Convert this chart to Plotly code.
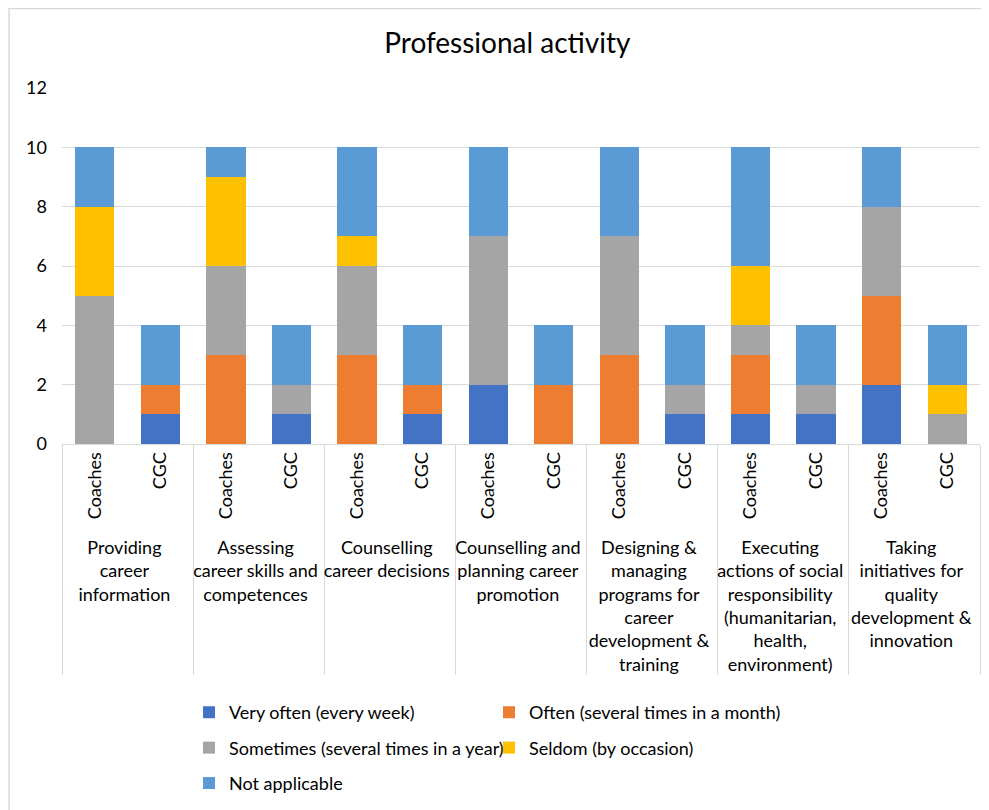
import plotly.graph_objects as go

groups = [
    "Providing<br>career<br>information",
    "Assessing<br>career skills and<br>competences",
    "Counselling<br>career decisions",
    "Counselling and<br>planning career<br>promotion",
    "Designing &<br>managing<br>programs for<br>career<br>development &<br>training",
    "Executing<br>actions of social<br>responsibility<br>(humanitarian,<br>health,<br>environment)",
    "Taking<br>initiatives for<br>quality<br>development &<br>innovation",
]
roles = ["Coaches", "CGC"]

# values per bar, order: (group1 Coaches, group1 CGC, group2 Coaches, ...)
very_often = [0, 1, 0, 1, 0, 1, 2, 0, 0, 1, 1, 1, 2, 0]
often      = [0, 1, 3, 0, 3, 1, 0, 2, 3, 0, 2, 0, 3, 0]
sometimes  = [5, 0, 3, 1, 3, 0, 5, 0, 4, 1, 1, 1, 3, 1]
seldom     = [3, 0, 3, 0, 1, 0, 0, 0, 0, 0, 2, 0, 0, 1]
not_appl   = [2, 2, 1, 2, 3, 2, 3, 2, 3, 2, 4, 2, 2, 2]

series_names = [
    "Very often (every week)",
    "Often (several times in a month)",
    "Sometimes (several times in a year)",
    "Seldom (by occasion)",
    "Not applicable",
]
series_vals = [very_often, often, sometimes, seldom, not_appl]
colors = ["#4472C4", "#ED7D31", "#A5A5A5", "#FFC000", "#5B9BD5"]
# legend column for each series (two-column legend as in the reference)
legend_col = ["legend", "legend2", "legend", "legend2", "legend"]

x_outer = [g for g in groups for _ in roles]
x_inner = [r for _ in groups for r in roles]

fig = go.Figure()
for i, (name, vals, col) in enumerate(zip(series_names, series_vals, colors)):
    fig.add_trace(go.Bar(x=[x_outer, x_inner], y=vals, name=name,
                         legend=legend_col[i], legendgroup=f"g{i}",
                         marker=dict(color=col, line=dict(width=0))))

font = "Lato, Open Sans, sans-serif"
leg_common = dict(orientation="v", xref="container", yref="container",
                  xanchor="left", y=0.1446, yanchor="top",
                  font=dict(size=18), traceorder="grouped",
                  tracegroupgap=9, itemwidth=30, bgcolor="rgba(0,0,0,0)")
fig.update_layout(
    barmode="stack",
    bargap=0.4,
    width=981, height=802,
    margin=dict(l=54, r=9, t=80, b=366, autoexpand=False),
    paper_bgcolor="white", plot_bgcolor="white",
    font=dict(family=font, size=18, color="#000000"),
    title=dict(text="Professional activity", x=0.509, xanchor="center",
               y=0.956, yanchor="middle", font=dict(size=28, color="#000")),
    xaxis=dict(type="multicategory", tickangle=-90, showdividers=True,
               dividercolor="#D9D9D9", dividerwidth=1, showline=True,
               linecolor="#D9D9D9", tickfont=dict(size=18), automargin=False),
    yaxis=dict(range=[0, 12], dtick=2, showgrid=True, gridcolor="#D9D9D9",
               zeroline=False, tickfont=dict(size=18), ticklabelstandoff=14,
               automargin=False),
    legend=dict(x=0.1845, **leg_common),
    legend2=dict(x=0.4903, **leg_common),
    shapes=[dict(type="rect", xref="paper", yref="paper", x0=-0.0577, x1=1.05,
                 y0=-1.2, y1=1.2233, line=dict(color="#D9D9D9", width=1.5))],
)
fig.write_html("out.html")
